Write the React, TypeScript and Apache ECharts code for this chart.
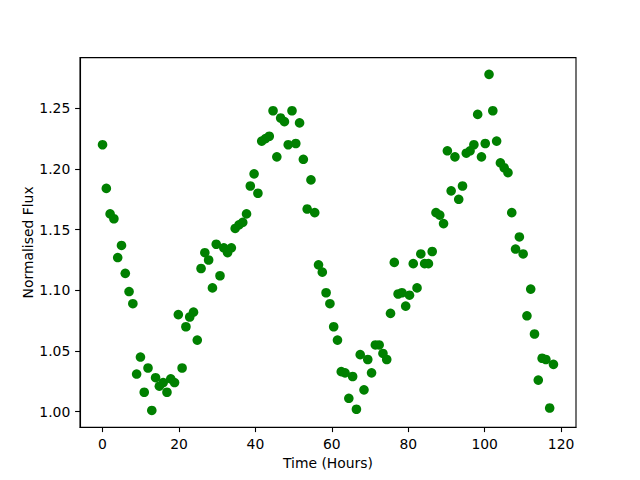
import React, { useEffect, useRef } from "react";
import * as echarts from "echarts";

const times: number[] = [
  0, 0.99, 1.98, 2.97, 3.97, 4.96, 5.95, 6.94, 7.93, 8.92,
  9.92, 10.91, 11.9, 12.89, 13.88, 14.87, 15.87, 16.86, 17.85, 18.84,
  19.83, 20.82, 21.82, 22.81, 23.8, 24.79, 25.78, 26.77, 27.76, 28.76,
  29.75, 30.74, 31.73, 32.72, 33.71, 34.71, 35.7, 36.69, 37.68, 38.67,
  39.66, 40.66, 41.65, 42.64, 43.63, 44.62, 45.61, 46.61, 47.6, 48.59,
  49.58, 50.57, 51.56, 52.55, 53.55, 54.54, 55.53, 56.52, 57.51, 58.5,
  59.5, 60.49, 61.48, 62.47, 63.46, 64.45, 65.45, 66.44, 67.43, 68.42,
  69.41, 70.4, 71.39, 72.39, 73.38, 74.37, 75.36, 76.35, 77.34, 78.34,
  79.33, 80.32, 81.31, 82.3, 83.29, 84.29, 85.28, 86.27, 87.26, 88.25,
  89.24, 90.24, 91.23, 92.22, 93.21, 94.2, 95.19, 96.18, 97.18, 98.17,
  99.16, 100.15, 101.14, 102.13, 103.13, 104.12, 105.11, 106.1, 107.09, 108.08,
  109.08, 110.07, 111.06, 112.05, 113.04, 114.03, 115.03, 116.02, 117.01, 118.0,
];

const flux: number[] = [
  1.220, 1.184, 1.163, 1.159, 1.127, 1.137, 1.114, 1.099, 1.089, 1.031,
  1.045, 1.016, 1.036, 1.001, 1.028, 1.021, 1.024, 1.016, 1.027, 1.024,
  1.080, 1.036, 1.070, 1.078, 1.082, 1.059, 1.118, 1.131, 1.125, 1.102,
  1.138, 1.112, 1.135, 1.131, 1.135, 1.151, 1.154, 1.156, 1.163, 1.186,
  1.196, 1.180, 1.223, 1.225, 1.227, 1.248, 1.210, 1.242, 1.239, 1.220,
  1.248, 1.221, 1.238, 1.208, 1.167, 1.191, 1.164, 1.121, 1.115, 1.098,
  1.089, 1.070, 1.059, 1.033, 1.032, 1.011, 1.029, 1.002, 1.047, 1.018,
  1.043, 1.032, 1.055, 1.055, 1.048, 1.043, 1.081, 1.123, 1.097, 1.098,
  1.087, 1.096, 1.122, 1.102, 1.130, 1.122, 1.122, 1.132, 1.164, 1.162,
  1.155, 1.215, 1.182, 1.210, 1.175, 1.186, 1.213, 1.215, 1.220, 1.245,
  1.210, 1.221, 1.278, 1.248, 1.223, 1.205, 1.201, 1.197, 1.164, 1.134,
  1.144, 1.130, 1.079, 1.101, 1.064, 1.026, 1.044, 1.043, 1.003, 1.039,
];

const xTicks: number[] = [0, 20, 40, 60, 80, 100, 120];
const yTicks: number[] = [1.0, 1.05, 1.1, 1.15, 1.2, 1.25];

const FONT = "DejaVu Sans";
const FS = 13.9;

export default function App() {
  const ref = useRef<HTMLDivElement>(null);
  useEffect(() => {
    if (!ref.current) return;
    const chart = echarts.init(ref.current, undefined, { renderer: "svg" });
    const data = times.map((t, i) => [t, flux[i]]);
    chart.setOption({
      animation: false,
      backgroundColor: "#ffffff",
      grid: {
        left: 80,
        right: 64,
        top: 57.6,
        bottom: 52.8,
        show: true,
        borderColor: "#000000",
        borderWidth: 1.1,
        backgroundColor: "transparent",
        containLabel: false,
        outerBoundsMode: "none",
      },
      xAxis: {
        type: "value",
        min: -5.9,
        max: 123.9,
        name: "Time (Hours)",
        nameLocation: "middle",
        nameGap: 29,
        nameMoveOverlap: false,
        nameTextStyle: { fontFamily: FONT, fontSize: FS, color: "#000" },
        axisLine: { show: true, onZero: false, lineStyle: { color: "#000", width: 1.1 } },
        axisTick: {
          show: true,
          inside: false,
          length: 4.9,
          lineStyle: { color: "#000", width: 1.1 },
          customValues: xTicks,
        },
        axisLabel: {
          show: true,
          margin: 9.7,
          fontFamily: FONT,
          fontSize: FS,
          color: "#000",
          customValues: xTicks,
          formatter: (v: number) => String(v),
        },
        splitLine: { show: false },
      },
      yAxis: {
        type: "value",
        min: 0.9872,
        max: 1.2918,
        name: "Normalised Flux",
        nameLocation: "middle",
        nameGap: 45,
        nameRotate: 90,
        nameMoveOverlap: false,
        nameTextStyle: { fontFamily: FONT, fontSize: FS, color: "#000" },
        axisLine: { show: true, onZero: false, lineStyle: { color: "#000", width: 1.1 } },
        axisTick: {
          show: true,
          inside: false,
          length: 4.9,
          lineStyle: { color: "#000", width: 1.1 },
          customValues: yTicks,
        },
        axisLabel: {
          show: true,
          margin: 9.7,
          fontFamily: FONT,
          fontSize: FS,
          color: "#000",
          customValues: yTicks,
          formatter: (v: number) => v.toFixed(2),
        },
        splitLine: { show: false },
      },
      series: [
        {
          type: "scatter",
          data,
          symbol: "circle",
          symbolSize: 9.6,
          itemStyle: { color: "#008000", opacity: 1 },
          emphasis: { disabled: true },
        },
      ],
    });
    return () => chart.dispose();
  }, []);
  return (
    <div
      ref={ref}
      style={{ position: "fixed", left: 0, top: 0, width: 640, height: 480 }}
    />
  );
}
